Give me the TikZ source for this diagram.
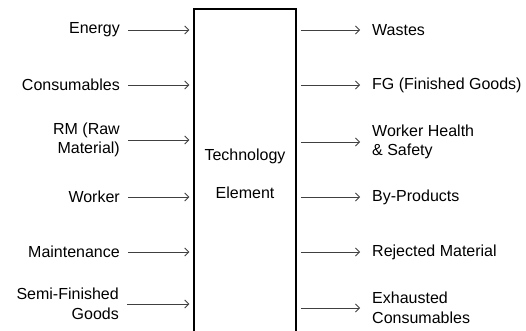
\documentclass[tikz,border=0pt]{standalone}
\usepackage{fontspec}
\setmainfont{Liberation Sans}
\usepackage{tikz}
\usetikzlibrary{positioning}
\usetikzlibrary{arrows.meta}

\tikzset{
  techbox/.style={draw=black,line width=1.5pt,minimum width=102pt,minimum height=330pt,align=center,inner sep=0pt},
  inlabel/.style={anchor=east,align=right,inner sep=0pt},
  outlabel/.style={anchor=west,align=left,inner sep=0pt},
  flow/.style={draw=black!75,line width=0.8pt,-{Straight Barb[length=4pt,width=8pt]}}
}

\begin{document}
\begin{tikzpicture}[x=1pt,y=-1pt,font=\fontsize{16}{19.5}\selectfont]
  \clip (0,0) rectangle (526,331);

  \node[techbox] (box) at (245,174) {Technology\\[18.5pt]Element};

  % inputs
  \node[inlabel] (energy) at (120,30) {Energy};
  \node[inlabel] (cons) at (120,85) {Consumables};
  \node[inlabel] (rm) at (120,140) {RM (Raw\\Material)};
  \node[inlabel] (worker) at (120,197) {Worker};
  \node[inlabel] (maint) at (120,252) {Maintenance};
  \node[inlabel] (semi) at (119,304) {Semi-Finished\\Goods};

  % outputs
  \node[outlabel] (wastes) at (372,30) {Wastes};
  \node[outlabel] (fg) at (372,85) {FG (Finished Goods)};
  \node[outlabel] (health) at (372,142) {Worker Health\\\& Safety};
  \node[outlabel] (byprod) at (372,197) {By-Products};
  \node[outlabel] (reject) at (372,252) {Rejected Material};
  \node[outlabel] (exh) at (372,308) {Exhausted\\Consumables};

  \foreach \src in {energy,cons,rm,worker,maint,semi}
    \draw[flow,shorten <=8pt,shorten >=4pt] (\src) -- (\src -| box.west);

  \foreach \dst in {wastes,fg,health,byprod,reject,exh}
    \draw[flow,shorten <=4pt,shorten >=12pt] (\dst -| box.east) -- (\dst);
\end{tikzpicture}
\end{document}
